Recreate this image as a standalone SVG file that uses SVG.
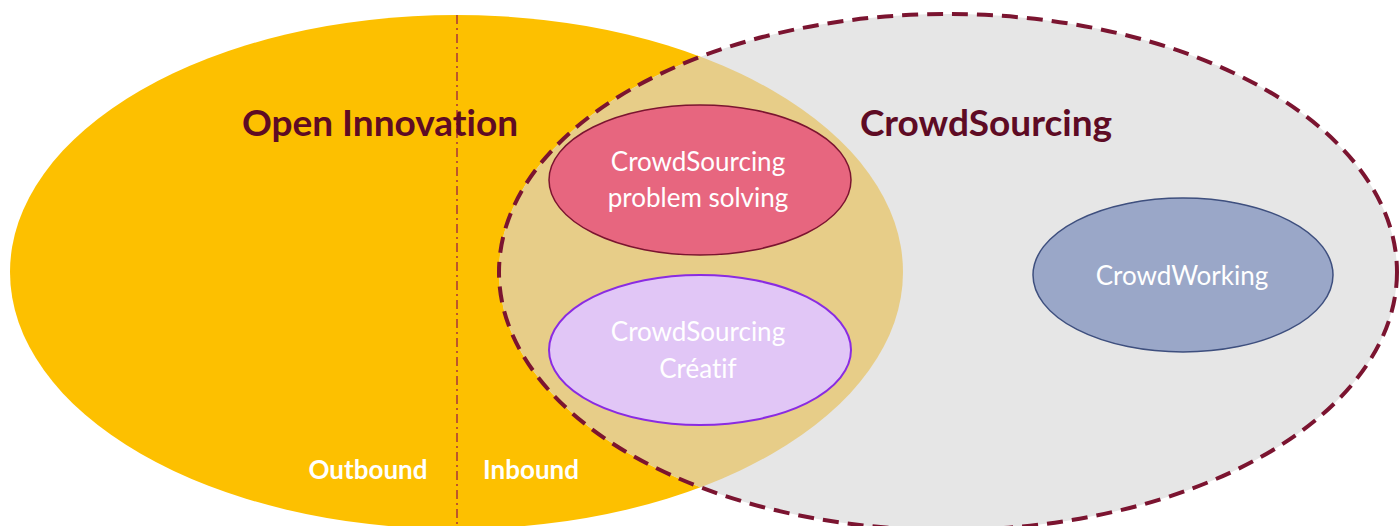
<svg xmlns="http://www.w3.org/2000/svg" width="1399" height="526" viewBox="0 0 1399 526">
<style>
text{font-variant-ligatures:none;font-feature-settings:"liga" 0}
.big{font-family:Lato,"Open Sans",sans-serif;font-weight:bold;font-size:37px;fill:#5E0B24;text-anchor:middle}
.w{font-family:Lato,"Open Sans",sans-serif;font-size:26px;fill:#FFFFFF;text-anchor:middle}
.wb{font-family:Lato,"Open Sans",sans-serif;font-weight:bold;font-size:26px;fill:#FFFFFF;text-anchor:middle}
</style>
<defs>
<clipPath id="clipY"><ellipse cx="456.5" cy="272" rx="446.5" ry="257"/></clipPath>
</defs>
<g id="open-innovation">
<ellipse cx="456.5" cy="272" rx="446.5" ry="257" fill="#FDC000"/>
</g>
<g id="crowdsourcing">
<ellipse cx="948" cy="272" rx="449" ry="258" fill="#E6E6E6"/>
<ellipse cx="948" cy="272" rx="449" ry="258" fill="#E7CD88" clip-path="url(#clipY)"/>
<ellipse cx="948" cy="272" rx="449" ry="258" fill="none" stroke="#7B1430" stroke-width="4" stroke-dasharray="16 9"/>
</g>
<g id="divider">
<line x1="457" y1="15" x2="457" y2="526" stroke="#A8343A" stroke-width="1.5" stroke-dasharray="9 4 2 4"/>
</g>
<g id="label-open-innovation"><text class="big" x="380" y="136">Open Innovation</text></g>
<g id="label-crowdsourcing"><text class="big" x="986" y="136">CrowdSourcing</text></g>
<g id="label-outbound"><text class="wb" x="368" y="479">Outbound</text></g>
<g id="label-inbound"><text class="wb" x="531" y="479">Inbound</text></g>
<g id="problem-solving">
<ellipse cx="700" cy="180" rx="151" ry="75" fill="#E7667F" stroke="#7B1430" stroke-width="1.5"/>
<text class="w" x="698" y="171">CrowdSourcing</text>
<text class="w" x="698" y="207">problem solving</text>
</g>
<g id="creatif">
<ellipse cx="700" cy="350" rx="151" ry="75" fill="#E1C6F6" stroke="#8A2BE2" stroke-width="2"/>
<text class="w" x="698" y="341">CrowdSourcing</text>
<text class="w" x="698" y="378">Créatif</text>
</g>
<g id="crowdworking">
<ellipse cx="1183" cy="275" rx="150" ry="77" fill="#9AA7C8" stroke="#3E4F7E" stroke-width="1.5"/>
<text class="w" x="1182" y="285">CrowdWorking</text>
</g>
</svg>
